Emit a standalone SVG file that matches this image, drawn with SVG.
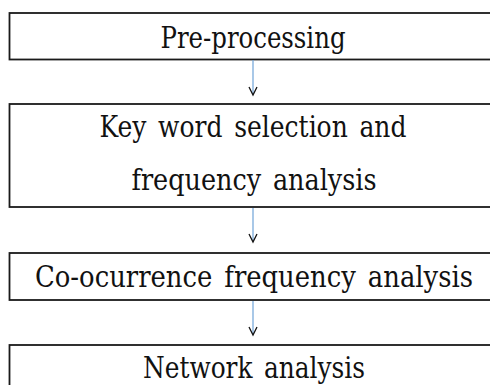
<svg xmlns="http://www.w3.org/2000/svg" width="490" height="385" viewBox="0 0 490 385">
<style>
.box{fill:#fff;stroke:#1a1a1a;stroke-width:1.8}
.lbl{font-family:"DejaVu Serif Condensed","DejaVu Serif","Liberation Serif",serif;font-stretch:condensed;font-size:30px;fill:#111;text-anchor:middle;word-spacing:4px}
.con{stroke:#6fa3d8;stroke-width:1.2;fill:none}
.head{stroke:#111;stroke-width:1.3;fill:none}
</style>
<rect width="490" height="385" fill="#fff"/>
<g id="n1"><rect class="box" x="9.5" y="13" width="490" height="46.5"/><text class="lbl" x="253" y="48" textLength="185" lengthAdjust="spacingAndGlyphs">Pre-processing</text></g>
<g id="n2"><rect class="box" x="9.5" y="104" width="490" height="103"/><text class="lbl" x="253" y="137" textLength="307" lengthAdjust="spacingAndGlyphs">Key word selection and</text><text class="lbl" x="254" y="190" textLength="245" lengthAdjust="spacingAndGlyphs">frequency analysis</text></g>
<g id="n3"><rect class="box" x="9.5" y="253" width="490" height="47"/><text class="lbl" x="254" y="287" textLength="438" lengthAdjust="spacingAndGlyphs">Co-ocurrence frequency analysis</text></g>
<g id="n4"><rect class="box" x="9.5" y="345" width="490" height="60"/><text class="lbl" x="254" y="378" textLength="222" lengthAdjust="spacingAndGlyphs">Network analysis</text></g>
<g id="connectors">
<line class="con" x1="253" y1="60" x2="253" y2="94"/><path class="head" d="M249,87 L253,95 L257,87"/>
<line class="con" x1="253" y1="208" x2="253" y2="241"/><path class="head" d="M249,234 L253,242 L257,234"/>
<line class="con" x1="253" y1="301" x2="253" y2="334"/><path class="head" d="M249,327 L253,335 L257,327"/>
</g>
</svg>
